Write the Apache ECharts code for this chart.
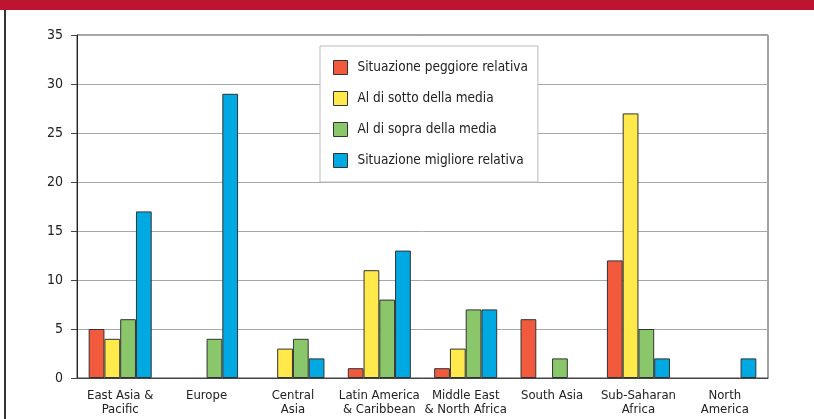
<!DOCTYPE html>
<html>
<head>
<meta charset="utf-8">
<script src="https://cdn.jsdelivr.net/npm/echarts@6/dist/echarts.min.js"></script>
<style>
  html, body { margin: 0; padding: 0; background: #fff; }
  #chart { width: 814px; height: 419px; }
</style>
</head>
<body>
<div id="chart"></div>
<script>
const regions = [
  "East Asia &\nPacific",
  "Europe",
  "Central\nAsia",
  "Latin America\n& Caribbean",
  "Middle East\n& North Africa",
  "South Asia",
  "Sub-Saharan\nAfrica",
  "North\nAmerica"
];
const seriesNames = [
  "Situazione peggiore relativa",
  "Al di sotto della media",
  "Al di sopra della media",
  "Situazione migliore relativa"
];
const worst = [5, 0, 0, 1, 1, 6, 12, 0];
const below = [4, 0, 3, 11, 3, 0, 27, 0];
const above = [6, 4, 4, 8, 7, 2, 5, 0];
const best = [17, 29, 2, 13, 7, 0, 2, 2];
const colors = ["#F15A3D", "#FFE94B", "#89C76A", "#00A9E1"];

const font = "'DejaVu Sans Condensed', 'Liberation Sans Narrow', Arial, sans-serif";
const chart = echarts.init(document.getElementById("chart"));

// zero values are simply not drawn in the original
const clean = (arr) => arr.map((v) => (v === 0 ? null : v));

const series = [worst, below, above, best].map((vals, i) => ({
  name: seriesNames[i],
  type: "bar",
  data: clean(vals),
  barGap: "0%",
  barCategoryGap: "27%",
  itemStyle: { color: colors[i], borderColor: "#333", borderWidth: 1 }
}));

chart.setOption({
  animation: false,
  textStyle: { fontFamily: font },
  graphic: [
    { type: "rect", shape: { x: 0, y: 0, width: 814, height: 10 }, style: { fill: "#BE1432" } },
    { type: "rect", shape: { x: 4, y: 10, width: 2, height: 409 }, style: { fill: "#333" } }
  ],
  legend: {
    orient: "vertical",
    left: 320,
    top: 46,
    padding: [14, 10, 14, 13],
    itemGap: 16,
    itemWidth: 14,
    itemHeight: 14,
    backgroundColor: "#fff",
    borderColor: "#bbb",
    borderWidth: 1,
    icon: "rect",
    textStyle: { fontFamily: font, fontSize: 13.5, color: "#222", padding: [0, 0, 0, 5] },
    data: seriesNames.map((n, i) => ({
      name: n,
      itemStyle: { color: colors[i], borderColor: "#333", borderWidth: 1 }
    }))
  },
  grid: {
    left: 77,
    right: 46,
    top: 35,
    bottom: 41,
    show: true,
    borderColor: "#444",
    borderWidth: 1
  },
  xAxis: {
    type: "category",
    data: regions,
    axisLine: { lineStyle: { color: "#444" } },
    axisTick: { alignWithLabel: false, length: 4, lineStyle: { color: "#444" } },
    axisLabel: { color: "#222", fontSize: 13, lineHeight: 14, margin: 11, interval: 0 }
  },
  yAxis: {
    type: "value",
    min: 0,
    max: 35,
    interval: 5,
    axisLine: { show: true, lineStyle: { color: "#222" } },
    axisTick: { show: true, length: 6, lineStyle: { color: "#444" } },
    axisLabel: { color: "#222", fontSize: 14, margin: 14 },
    splitLine: { lineStyle: { color: "#a8a8a8" } }
  },
  series: series
});
</script>
</body>
</html>
